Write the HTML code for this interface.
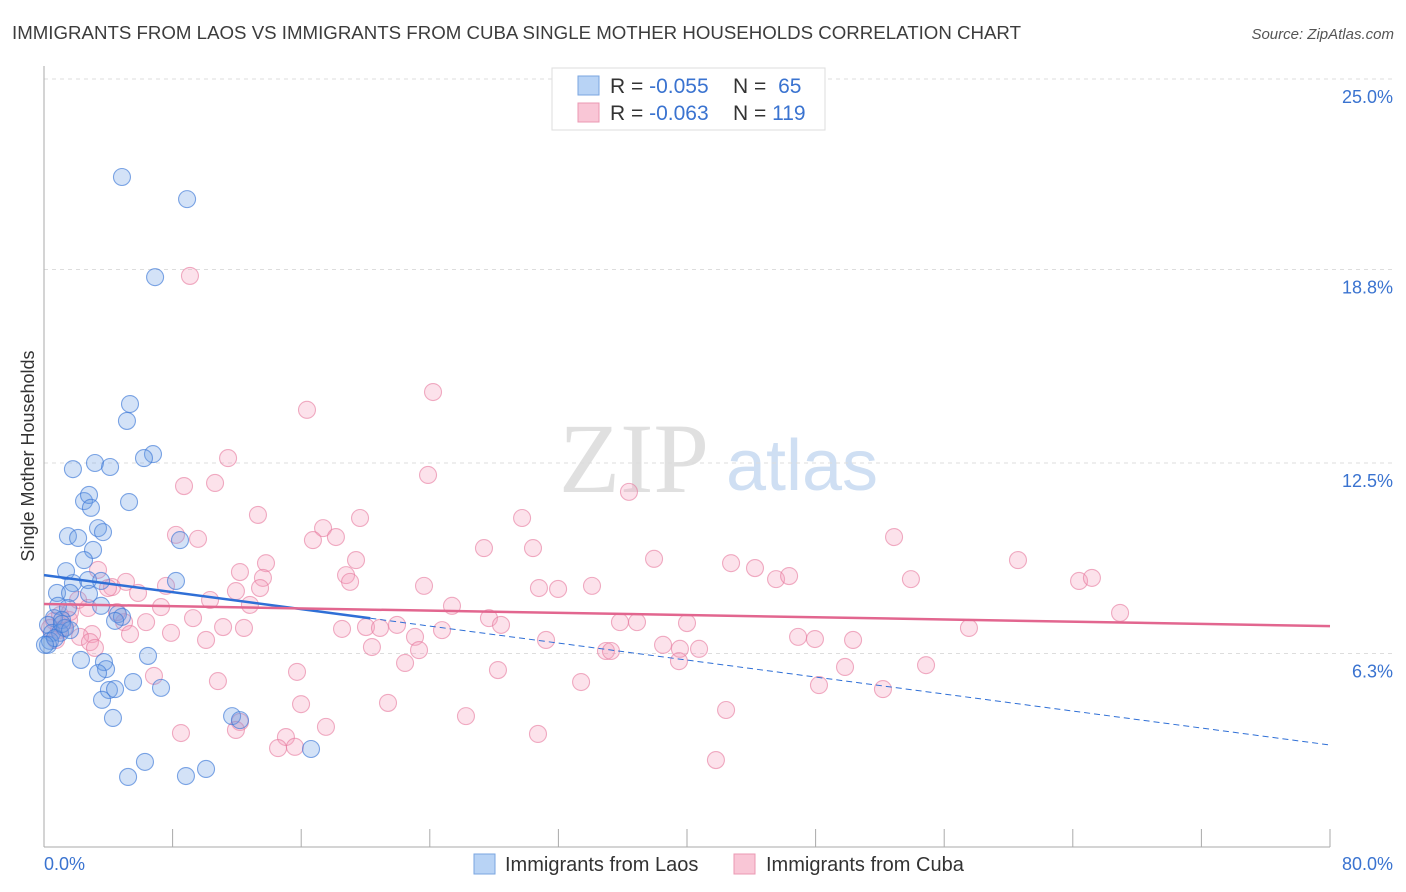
<!DOCTYPE html>
<html><head><meta charset="utf-8"><style>
body{margin:0;background:#fff;font-family:"Liberation Sans",sans-serif;}
svg{display:block}
</style></head><body>
<svg id="chart" width="1406" height="892" xmlns="http://www.w3.org/2000/svg">
<text x="12" y="39" font-size="18" fill="#3c3c3c" textLength="1009" lengthAdjust="spacingAndGlyphs">IMMIGRANTS FROM LAOS VS IMMIGRANTS FROM CUBA SINGLE MOTHER HOUSEHOLDS CORRELATION CHART</text>
<text x="1394" y="39" font-size="15" fill="#555" font-style="italic" text-anchor="end">Source: ZipAtlas.com</text>
<g>
<text x="634" y="492" font-size="100" fill="#e0e0e0" font-family="Liberation Serif,serif" text-anchor="middle">ZIP</text>
<text x="802" y="490" font-size="72" fill="#cfdff3" text-anchor="middle">atlas</text>
</g>
<g id="grid"></g>
<g id="axes"></g>
<g id="marks"></g>
<g id="trends"></g>
<g>
<rect x="552" y="68" width="273" height="62" fill="#fff" stroke="#ddd"/>
<rect x="578" y="76" width="21" height="19" fill="#b8d3f5" stroke="#7aa6e0"/>
<rect x="578" y="103" width="21" height="19" fill="#f9c6d6" stroke="#eb98b3"/>
<text x="610" y="93" font-size="21" fill="#333">R = <tspan fill="#3a73d0">-0.055</tspan></text>
<text x="733" y="93" font-size="21" fill="#333">N = <tspan fill="#3a73d0" dx="6">65</tspan></text>
<text x="610" y="120" font-size="21" fill="#333">R = <tspan fill="#3a73d0">-0.063</tspan></text>
<text x="733" y="120" font-size="21" fill="#333">N = <tspan fill="#3a73d0">119</tspan></text>
</g>
<text transform="translate(34,456) rotate(-90)" font-size="18" fill="#333" text-anchor="middle">Single Mother Households</text>
<g>
<rect x="474" y="854" width="21" height="20" fill="#b8d3f5" stroke="#7aa6e0"/>
<text x="505" y="871" font-size="20" fill="#333">Immigrants from Laos</text>
<rect x="734" y="854" width="21" height="20" fill="#f9c6d6" stroke="#eb98b3"/>
<text x="766" y="871" font-size="20" fill="#333">Immigrants from Cuba</text>
</g>
</svg>
<script>
const yTicks=[6.3,12.5,18.8,25.0];
const yTickLabels=["6.3%","12.5%","18.8%","25.0%"];
const xRange=[0,80];
const xTickLabels=["0.0%","80.0%"];
const laosX=[4.85,8.90,6.91,5.35,5.16,6.78,6.22,1.80,3.17,4.11,2.49,2.80,2.92,5.29,1.49,3.36,2.12,3.67,3.05,8.46,2.49,1.37,8.21,1.80,2.74,3.55,0.81,1.62,2.80,0.87,1.49,3.55,4.60,4.85,4.42,0.62,0.25,1.12,0.50,1.00,0.37,0.25,2.30,3.73,6.47,3.86,3.36,7.28,4.04,4.42,5.54,3.61,4.29,11.70,16.61,6.28,5.23,8.83,10.08,12.19,1.31,0.68,1.12,1.62,0.06];
const laosY=[21.81,21.09,18.55,14.42,13.87,12.79,12.66,12.30,12.50,12.37,11.26,11.46,11.04,11.23,10.12,10.38,10.06,10.25,9.67,9.99,9.34,8.98,8.66,8.59,8.69,8.66,8.27,8.27,8.24,7.85,7.78,7.85,7.58,7.49,7.36,7.45,7.23,7.39,6.97,6.97,6.71,6.58,6.09,6.02,6.22,5.79,5.66,5.18,5.11,5.14,5.37,4.79,4.20,4.26,3.19,2.77,2.28,2.31,2.54,4.13,7.13,6.80,7.26,7.06,6.58];
const cubaX=[9.08,24.20,16.36,23.89,11.45,8.71,10.64,36.39,29.74,13.31,19.66,17.36,18.16,16.73,9.58,8.21,27.37,30.42,52.88,37.95,42.74,44.23,60.59,19.41,12.19,13.81,13.62,18.79,19.04,3.36,5.10,23.64,30.79,31.98,34.09,45.54,46.35,53.93,64.39,65.19,4.23,5.85,7.59,10.33,3.98,2.12,7.28,12.81,25.38,27.68,28.43,35.83,36.89,40.00,66.94,9.27,4.98,6.35,5.35,2.99,11.14,18.54,20.03,20.90,21.96,24.76,1.56,0.93,1.24,0.62,10.08,7.90,23.08,31.23,20.40,23.33,38.51,34.96,35.27,39.56,40.75,46.91,47.96,50.33,57.54,39.50,22.46,28.24,15.74,49.83,54.87,6.84,10.82,33.41,48.21,52.19,21.40,15.99,42.43,26.25,12.19,11.94,8.52,17.54,30.73,15.05,14.56,15.61,41.80,0.37,0.75,1.00,1.62,2.74,4.54,11.94,13.44,12.44,2.24,2.86,3.17];
const cubaY=[18.59,14.81,14.23,12.11,12.66,11.75,11.85,11.56,10.71,10.81,10.71,10.38,10.09,9.99,10.03,10.16,9.73,9.73,10.09,9.38,9.24,9.08,9.34,9.34,8.95,9.24,8.76,8.85,8.63,9.02,8.63,8.50,8.43,8.40,8.50,8.72,8.82,8.72,8.66,8.76,8.46,8.27,8.50,8.04,8.43,8.04,7.81,7.88,7.85,7.45,7.23,7.32,7.32,7.29,7.62,7.45,7.32,7.32,6.93,6.93,7.16,7.10,7.16,7.13,7.23,7.06,7.39,7.06,7.13,7.36,6.74,6.97,6.84,6.74,6.51,6.41,6.58,6.38,6.38,6.45,6.45,6.84,6.77,6.74,7.13,6.05,5.99,5.76,5.70,5.86,5.92,5.57,5.40,5.37,5.27,5.14,4.69,4.65,4.46,4.26,4.07,3.81,3.71,3.91,3.68,3.58,3.22,3.26,2.83,7.13,6.74,7.55,7.65,7.78,7.65,8.33,8.43,7.13,6.84,6.67,6.48];
const laosTrend=[8.85,3.32];
const cubaTrend=[7.91,7.19];
const laosSolidEnd=20.3;

const NS="http://www.w3.org/2000/svg";
const X0=44,X1=1330,Y0=847,YTOP=79;
function sx(v){return X0+(v-xRange[0])/(xRange[1]-xRange[0])*(X1-X0);}
function sy(v){return Y0-v/25*(Y0-YTOP);}
function mk(tag,attrs,parent){const e=document.createElementNS(NS,tag);for(const k in attrs)e.setAttribute(k,attrs[k]);parent.appendChild(e);return e;}
const grid=document.getElementById('grid'),axes=document.getElementById('axes'),marks=document.getElementById('marks'),trends=document.getElementById('trends');
yTicks.forEach((t,i)=>{
  const y=sy(t);
  const l=mk('line',{x1:X0,x2:1394,y1:y,y2:y,stroke:'#ddd','stroke-dasharray':'4,4'},grid);
  
  
  const tx=mk('text',{x:1393,y:y+24,'font-size':18,fill:'#3a73d0','text-anchor':'end'},axes);
  tx.textContent=yTickLabels[i];
  
  
});
const yax=mk('line',{x1:X0,x2:X0,y1:66,y2:Y0,stroke:'#aaa'},axes);


const xax=mk('line',{x1:X0,x2:X1,y1:Y0,y2:Y0,stroke:'#aaa'},axes);


for(let i=0;i<=10;i++){
  const x=sx(xRange[0]+i*(xRange[1]-xRange[0])/10);
  const t=mk('line',{x1:x,x2:x,y1:Y0-18,y2:Y0,stroke:'#aaa'},axes);
  
  
}
const xl0=mk('text',{x:44,y:870,'font-size':18,fill:'#3a73d0'},axes);
xl0.textContent=xTickLabels[0];


const xl1=mk('text',{x:1393,y:870,'font-size':18,fill:'#3a73d0','text-anchor':'end'},axes);
xl1.textContent=xTickLabels[1];



cubaX.forEach((v,i)=>{
  const c=mk('circle',{cx:sx(v),cy:sy(cubaY[i]),r:8.5,fill:'rgba(244,160,188,0.3)',stroke:'rgba(230,120,156,0.6)','stroke-width':1.1},marks);
  
  
});
laosX.forEach((v,i)=>{
  const c=mk('circle',{cx:sx(v),cy:sy(laosY[i]),r:8.5,fill:'rgba(110,160,230,0.3)',stroke:'rgba(60,120,215,0.65)','stroke-width':1.1},marks);
  
  
});
function trendY(tr,x){return tr[0]+(tr[1]-tr[0])*(x-xRange[0])/(xRange[1]-xRange[0]);}
const bl=mk('line',{x1:sx(0),y1:sy(trendY(laosTrend,0)),x2:sx(laosSolidEnd),y2:sy(trendY(laosTrend,laosSolidEnd)),stroke:'#2f6fd6','stroke-width':2.5},trends);


const bd=mk('line',{x1:sx(laosSolidEnd),y1:sy(trendY(laosTrend,laosSolidEnd)),x2:sx(80),y2:sy(trendY(laosTrend,80)),stroke:'#2f6fd6','stroke-width':1,'stroke-dasharray':'6,4'},trends);


const pl=mk('line',{x1:sx(0),y1:sy(trendY(cubaTrend,0)),x2:sx(80),y2:sy(trendY(cubaTrend,80)),stroke:'#e2668f','stroke-width':2.5},trends);


</script>
</body></html>
